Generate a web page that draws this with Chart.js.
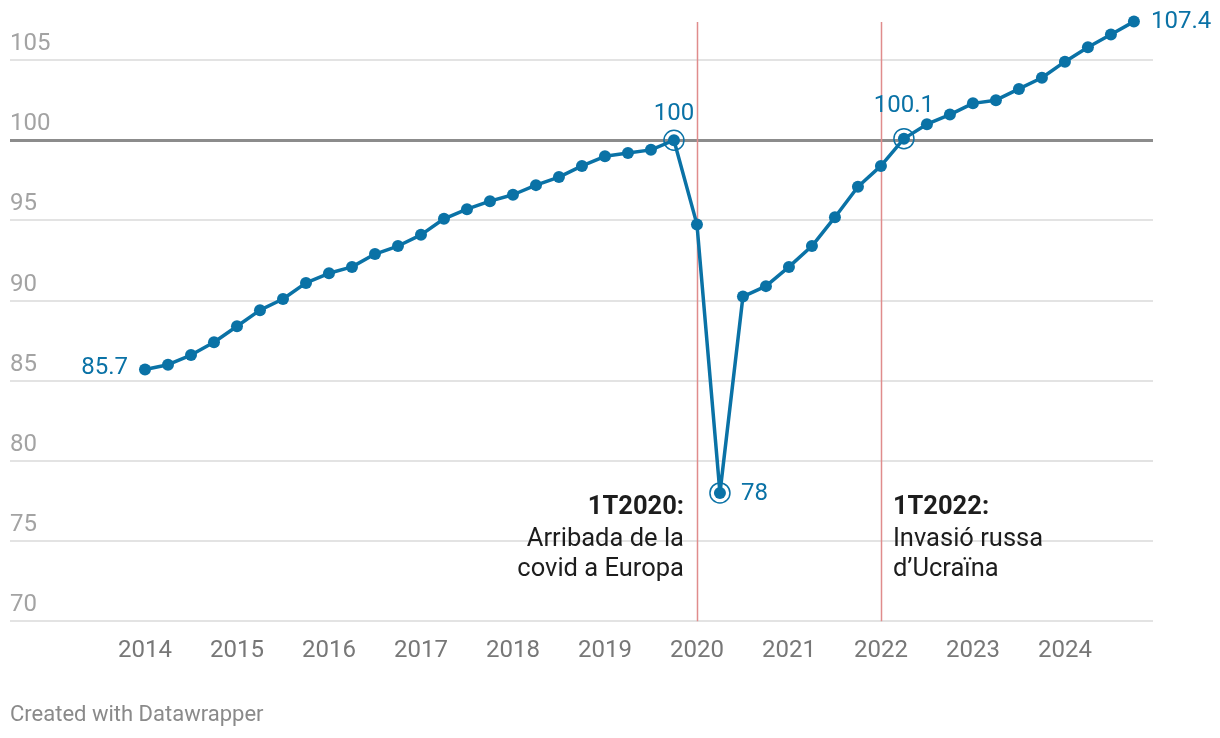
<!DOCTYPE html>
<html lang="ca">
  <head>
    <meta charset="UTF-8" />
    <title>PIB</title>
    <style>
      html, body { margin: 0; padding: 0; background: #fff; }
      #wrap { width: 1220px; height: 738px; position: relative; }
    </style>
  </head>
  <body>
    <div id="wrap">
      <canvas id="myChart"></canvas>
    </div>
    <script src="https://cdn.jsdelivr.net/npm/chart.js@4.4.1/dist/chart.umd.min.js"></script>
    <script>
      const quarters = [
        "1T2014", "2T2014", "3T2014", "4T2014",
        "1T2015", "2T2015", "3T2015", "4T2015",
        "1T2016", "2T2016", "3T2016", "4T2016",
        "1T2017", "2T2017", "3T2017", "4T2017",
        "1T2018", "2T2018", "3T2018", "4T2018",
        "1T2019", "2T2019", "3T2019", "4T2019",
        "1T2020", "2T2020", "3T2020", "4T2020",
        "1T2021", "2T2021", "3T2021", "4T2021",
        "1T2022", "2T2022", "3T2022", "4T2022",
        "1T2023", "2T2023", "3T2023", "4T2023",
        "1T2024", "2T2024", "3T2024", "4T2024",
      ];
      const values = [
        85.7, 86.0, 86.6, 87.4,
        88.4, 89.4, 90.1, 91.1,
        91.7, 92.1, 92.9, 93.4,
        94.1, 95.1, 95.7, 96.2,
        96.6, 97.2, 97.7, 98.4,
        99.0, 99.2, 99.4, 100,
        94.75, 78, 90.25, 90.9,
        92.1, 93.4, 95.2, 97.1,
        98.4, 100.1, 101.0, 101.6,
        102.3, 102.5, 103.2, 103.9,
        104.9, 105.8, 106.6, 107.4,
      ];
      const yearLabels = ["2014", "2015", "2016", "2017", "2018", "2019", "2020", "2021", "2022", "2023", "2024"];
      const yTicks = [70, 75, 80, 85, 90, 95, 100, 105];

      // labelled points: quarter, text
      const valueLabels = [
        ["1T2014", "85.7"],
        ["4T2019", "100"],
        ["2T2020", "78"],
        ["2T2022", "100.1"],
        ["4T2024", "107.4"],
      ];
      const ringed = ["4T2019", "2T2020", "2T2022"];
      const events = [
        { quarter: "1T2020", title: "1T2020:", lines: ["Arribada de la", "covid a Europa"], side: "left" },
        { quarter: "1T2022", title: "1T2022:", lines: ["Invasió russa", "d’Ucraïna"], side: "right" },
      ];

      const BLUE = "#0a72a6";
      const FONT = "Roboto";

      // label placement (pixels relative to the point)
      const labelPos = {
        "1T2014": { dx: -17, dy: -1, align: "right" },
        "4T2019": { dx: 0, dy: -26, align: "center" },
        "2T2020": { dx: 21, dy: 1, align: "left" },
        "2T2022": { dx: 0, dy: -33, align: "center" },
        "4T2024": { dx: 17, dy: 0, align: "left" },
      };

      const points = values.map((v, i) => ({ x: i, y: v }));

      const overlay = {
        id: "overlay",
        beforeDatasetsDraw(chart) {
          const { ctx, chartArea, scales } = chart;
          ctx.save();
          ctx.strokeStyle = "#e08c8c";
          ctx.lineWidth = 1.5;
          events.forEach((ev) => {
            const x = Math.round(scales.x.getPixelForValue(quarters.indexOf(ev.quarter))) + 0.5;
            ctx.beginPath();
            ctx.moveTo(x, chartArea.top + 2);
            ctx.lineTo(x, chartArea.bottom);
            ctx.stroke();
          });
          ctx.restore();
        },
        afterDatasetsDraw(chart) {
          const { ctx, scales } = chart;
          ctx.save();
          // rings
          ctx.strokeStyle = BLUE;
          ctx.lineWidth = 1.5;
          ringed.forEach((q) => {
            const i = quarters.indexOf(q);
            const x = scales.x.getPixelForValue(i);
            const y = scales.y.getPixelForValue(values[i]);
            ctx.beginPath();
            ctx.arc(x, y, 10, 0, Math.PI * 2);
            ctx.stroke();
          });
          // value labels
          ctx.fillStyle = BLUE;
          ctx.font = "24px " + FONT;
          ctx.textBaseline = "middle";
          valueLabels.forEach(([q, txt]) => {
            const i = quarters.indexOf(q);
            const p = labelPos[q];
            const x = scales.x.getPixelForValue(i) + p.dx;
            const y = scales.y.getPixelForValue(values[i]) + p.dy;
            ctx.textAlign = p.align;
            ctx.fillText(txt, x, y);
          });
          // event notes
          ctx.fillStyle = "#1d1d1d";
          events.forEach((ev) => {
            const lx = scales.x.getPixelForValue(quarters.indexOf(ev.quarter));
            const x = ev.side === "left" ? lx - 13 : lx + 12;
            ctx.textAlign = ev.side === "left" ? "right" : "left";
            ctx.font = "bold 25.5px " + FONT;
            ctx.fillText(ev.title, x, 508);
            ctx.font = "25.5px " + FONT;
            ev.lines.forEach((t, k) => ctx.fillText(t, x, 540 + k * 30));
          });
          // footer
          ctx.fillStyle = "#8a8a8a";
          ctx.font = "22px " + FONT;
          ctx.textAlign = "left";
          ctx.fillText("Created with Datawrapper", 10, 715);
          ctx.restore();
        },
      };

      const ctx = document.getElementById("myChart");
      const myChart = new Chart(ctx, {
        type: "line",
        data: {
          datasets: [
            {
              data: points,
              borderColor: BLUE,
              backgroundColor: BLUE,
              borderWidth: 3.5,
              borderJoinStyle: "round",
              pointRadius: 6,
              pointBorderWidth: 0,
              pointHoverRadius: 6,
              tension: 0,
              clip: false,
            },
          ],
        },
        options: {
          responsive: true,
          maintainAspectRatio: false,
          animation: false,
          layout: { padding: { left: 10, right: 67, top: 20, bottom: 58 } },
          plugins: {
            legend: { display: false },
            tooltip: { enabled: false },
          },
          scales: {
            x: {
              type: "linear",
              min: -5.87,
              max: 43.83,
              grid: { display: false, drawTicks: false },
              border: { display: false },
              afterBuildTicks: (scale) => {
                scale.ticks = yearLabels.map((_, k) => ({ value: k * 4 }));
              },
              ticks: {
                padding: 15,
                maxRotation: 0,
                autoSkip: false,
                color: "#777",
                font: { family: FONT, size: 24 },
                callback: (v) => yearLabels[v / 4],
              },
            },
            y: {
              min: 70,
              max: 107.5,
              afterBuildTicks: (scale) => {
                scale.ticks = yTicks.map((v) => ({ value: v }));
              },
              border: { display: false },
              grid: {
                drawTicks: false,
                color: (c) => (c.tick && c.tick.value === 100 ? "#8c8c8c" : "#e3e3e3"),
                lineWidth: (c) => (c.tick && c.tick.value === 100 ? 3 : 2),
              },
              ticks: {
                mirror: true,
                padding: 0,
                labelOffset: -16,
                color: "#a3a3a3",
                font: { family: FONT, size: 24 },
              },
            },
          },
        },
        plugins: [overlay],
      });
    </script>
  </body>
</html>
